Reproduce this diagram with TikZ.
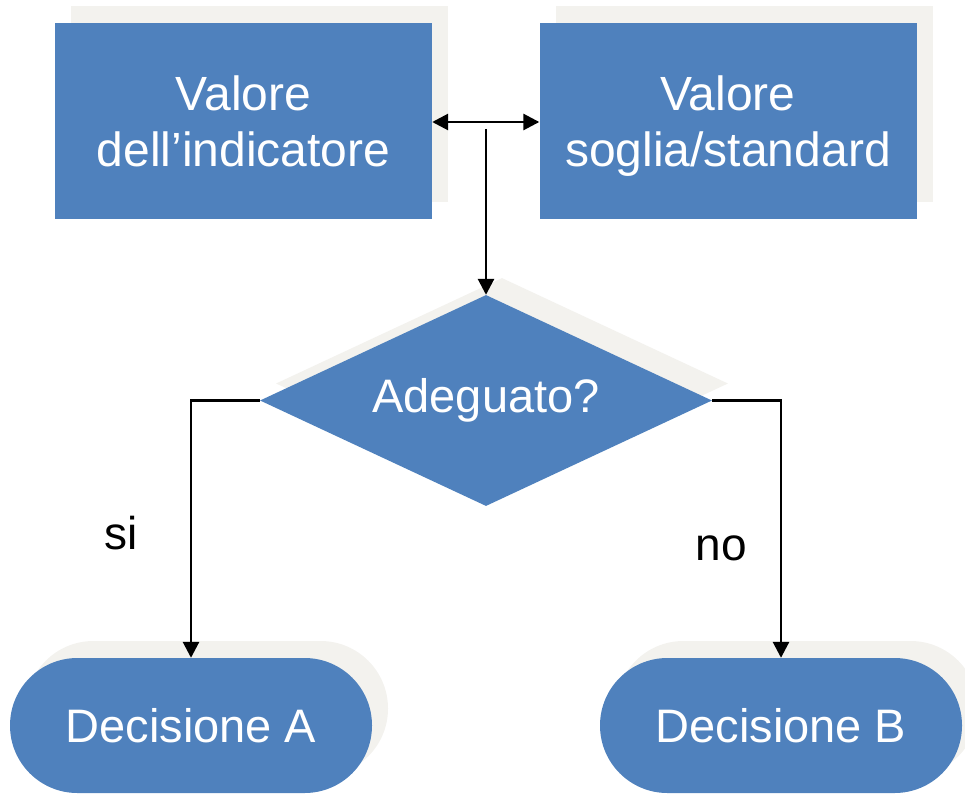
\documentclass[tikz,border=0pt]{standalone}
\usepackage{fontspec}
\setmainfont{Liberation Sans}
\usetikzlibrary{shapes.geometric,shadows,arrows.meta}
\definecolor{boxblue}{HTML}{4F81BD}
\definecolor{shadowc}{HTML}{F3F2EE}
\tikzset{
  shade16/.style={general shadow={fill=shadowc, shadow xshift=16pt, shadow yshift=17pt}},
  bluebox/.style={rectangle, fill=boxblue, text=white, minimum width=377pt, minimum height=196pt,
    inner sep=0pt, align=center, text depth=-4pt, font=\fontsize{48}{56}\selectfont, shade16},
  decisionshape/.style={diamond, aspect=2.14, fill=boxblue, text=white, minimum width=452pt, minimum height=211pt,
    inner sep=0pt, font=\fontsize{47}{56}\selectfont, shade16},
  terminal/.style={rectangle, rounded corners=67.4pt, fill=boxblue, text=white, minimum width=362pt,
    minimum height=135pt, inner sep=0pt, font=\fontsize{47}{56}\selectfont, shade16},
  conn/.style={line width=2.8pt, -{Triangle[length=16pt,width=16pt]}},
  lbl/.style={font=\fontsize{46}{56}\selectfont, text=black}
}
\begin{document}
\begin{tikzpicture}[x=1pt,y=-1pt]
\useasboundingbox (0,0) rectangle (965,794);
\node[bluebox] (ind) at (243.5,121) {Valore\\dell’indicatore};
\node[bluebox] (std) at (728,121) {Valore\\soglia/standard};
\node[decisionshape] (dec) at (486,400.5) {Adeguato?};
\node[terminal] (da) at (191,725.5) {Decisione A};
\node[terminal] (db) at (781,725.5) {Decisione B};
\coordinate (mid) at (486,129);
\draw[line width=2.8pt, {Triangle[length=16pt,width=16pt]}-{Triangle[length=16pt,width=16pt]}] (ind.east |- 0,122) -- (std.west |- 0,122);
\draw[conn] (mid) -- (dec.north);
\draw[conn] (dec.west) -| (da.north);
\draw[conn] (dec.east) -| (db.north);
\node[lbl] (si) at (121,533) {si};
\node[lbl] (no) at (721,548) {no};
\end{tikzpicture}
\end{document}
